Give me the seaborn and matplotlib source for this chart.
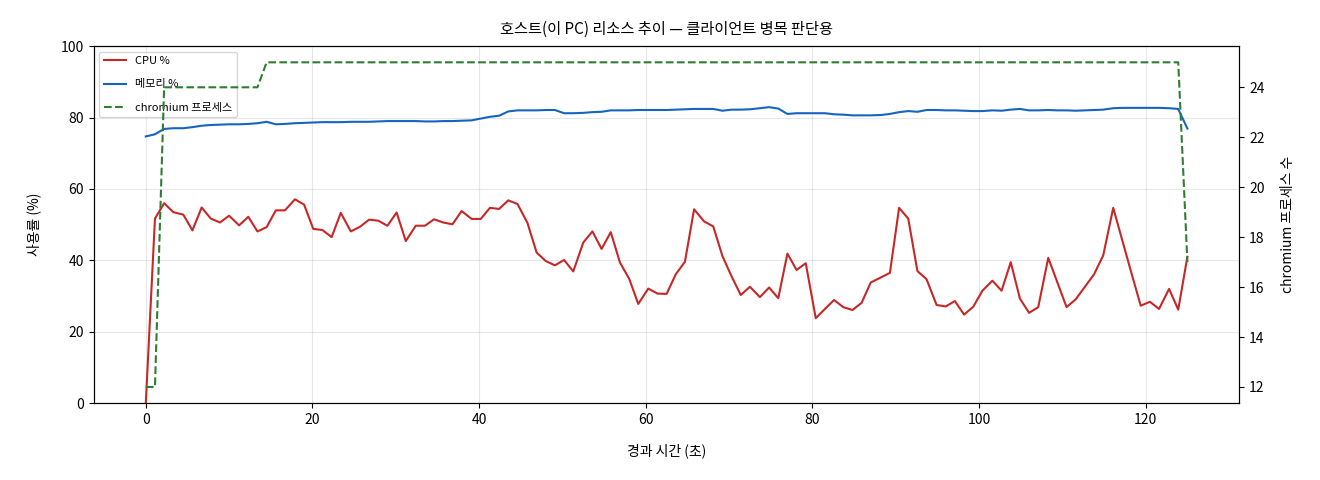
import matplotlib
matplotlib.use("Agg")
import matplotlib.pyplot as plt
import seaborn as sns

plt.rcParams['font.family'] = ['Noto Sans CJK KR', 'DejaVu Sans']
plt.rcParams['axes.unicode_minus'] = False

# elapsed seconds of each sample
elapsed = [0.0, 1.1, 2.2, 3.3, 4.5, 5.6, 6.7, 7.8, 8.9, 10.0,
           11.2, 12.3, 13.4, 14.5, 15.6, 16.7, 17.9, 19.0, 20.1, 21.2,
           22.3, 23.4, 24.6, 25.7, 26.8, 27.9, 29.0, 30.1, 31.2, 32.4,
           33.5, 34.6, 35.7, 36.8, 37.9, 39.1, 40.2, 41.3, 42.4, 43.5,
           44.6, 45.8, 46.9, 48.0, 49.1, 50.2, 51.3, 52.5, 53.6, 54.7,
           55.8, 56.9, 58.0, 59.1, 60.3, 61.4, 62.5, 63.6, 64.7, 65.8,
           67.0, 68.1, 69.2, 70.3, 71.4, 72.5, 73.7, 74.8, 75.9, 77.0,
           78.1, 79.2, 80.4, 81.5, 82.6, 83.7, 84.8, 85.9, 87.0, 88.2,
           89.3, 90.4, 91.5, 92.6, 93.7, 94.9, 96.0, 97.1, 98.2, 99.3,
           100.4, 101.6, 102.7, 103.8, 104.9, 106.0, 107.1, 108.3, 109.4, 110.5,
           111.6, 112.7, 113.8, 114.9, 116.1, 117.2, 118.3, 119.4, 120.5, 121.6,
           122.8, 123.9, 125.0]

cpu = [0.0, 51.7, 56.0, 53.5, 52.8, 48.4, 54.8, 51.7, 50.6, 52.5,
       49.8, 52.2, 48.1, 49.3, 54.0, 54.0, 57.1, 55.6, 48.8, 48.5,
       46.5, 53.3, 48.1, 49.4, 51.4, 51.1, 49.7, 53.4, 45.4, 49.7,
       49.7, 51.5, 50.6, 50.1, 53.8, 51.6, 51.6, 54.7, 54.4, 56.8,
       55.8, 50.5, 42.2, 39.8, 38.6, 40.1, 36.9, 45.0, 48.1, 43.2,
       47.9, 39.4, 34.9, 27.8, 32.1, 30.7, 30.6, 36.1, 39.6, 54.3,
       50.9, 49.5, 41.2, 35.5, 30.3, 32.6, 29.7, 32.4, 29.4, 41.9,
       37.3, 39.2, 23.8, 26.4, 28.9, 26.9, 26.1, 28.1, 33.8, 35.2,
       36.5, 54.7, 51.7, 37.0, 34.7, 27.5, 27.1, 28.6, 24.8, 27.0,
       31.5, 34.3, 31.5, 39.5, 29.3, 25.3, 26.9, 40.7, 33.8, 26.9,
       29.1, 32.6, 36.1, 41.4, 54.7, 45.5, 36.3, 27.3, 28.4, 26.4,
       32.0, 26.2, 41.0]

memory = [74.7, 75.3, 76.8, 77.0, 77.0, 77.3, 77.7, 77.9, 78.0, 78.1,
          78.1, 78.2, 78.4, 78.8, 78.1, 78.2, 78.4, 78.5, 78.6, 78.7,
          78.7, 78.7, 78.8, 78.8, 78.8, 78.9, 79.0, 79.0, 79.0, 79.0,
          78.9, 78.9, 79.0, 79.0, 79.1, 79.2, 79.7, 80.2, 80.5, 81.7,
          82.0, 82.0, 82.0, 82.1, 82.1, 81.2, 81.2, 81.3, 81.5, 81.6,
          82.0, 82.0, 82.0, 82.1, 82.1, 82.1, 82.1, 82.2, 82.3, 82.4,
          82.4, 82.4, 81.9, 82.2, 82.2, 82.3, 82.6, 82.9, 82.5, 81.0,
          81.2, 81.2, 81.2, 81.2, 80.9, 80.8, 80.6, 80.6, 80.6, 80.7,
          81.0, 81.5, 81.8, 81.6, 82.1, 82.1, 82.0, 82.0, 81.9, 81.8,
          81.8, 82.0, 81.9, 82.2, 82.4, 82.0, 82.0, 82.1, 82.0, 82.0,
          81.9, 82.0, 82.1, 82.2, 82.6, 82.7, 82.7, 82.7, 82.7, 82.7,
          82.6, 82.4, 76.9]

procs = [12, 12] + [24] * 11 + [25] * 99 + [17]

fig, ax = plt.subplots(figsize=(13.2, 4.8), dpi=100)
sns.lineplot(x=elapsed, y=cpu, ax=ax, color="#c62828", linewidth=1.5, label="CPU %")
sns.lineplot(x=elapsed, y=memory, ax=ax, color="#1565c0", linewidth=1.5, label="메모리 %")
ax.set_ylim(0, 100)
ax.set_xlabel("경과 시간 (초)", fontsize=10, labelpad=12)
ax.set_ylabel("사용률 (%)", fontsize=10, labelpad=14)
ax.grid(True, alpha=0.3)
ax.set_title("호스트(이 PC) 리소스 추이 — 클라이언트 병목 판단용", fontsize=11, pad=9)

ax2 = ax.twinx()
sns.lineplot(x=elapsed, y=procs, ax=ax2, color="#2e7d32", linewidth=1.5,
             linestyle="--", label="chromium 프로세스")
ax2.set_ylabel("chromium 프로세스 수", fontsize=10, labelpad=12)
ax2.grid(False)

h1, l1 = ax.get_legend_handles_labels()
h2, l2 = ax2.get_legend_handles_labels()
if ax2.get_legend() is not None:
    ax2.get_legend().remove()
ax.legend(h1 + h2, l1 + l2, loc="upper left", fontsize=8, labelspacing=1.2)

plt.subplots_adjust(left=0.071, right=0.939, top=0.904, bottom=0.16)
plt.savefig("out.png")
